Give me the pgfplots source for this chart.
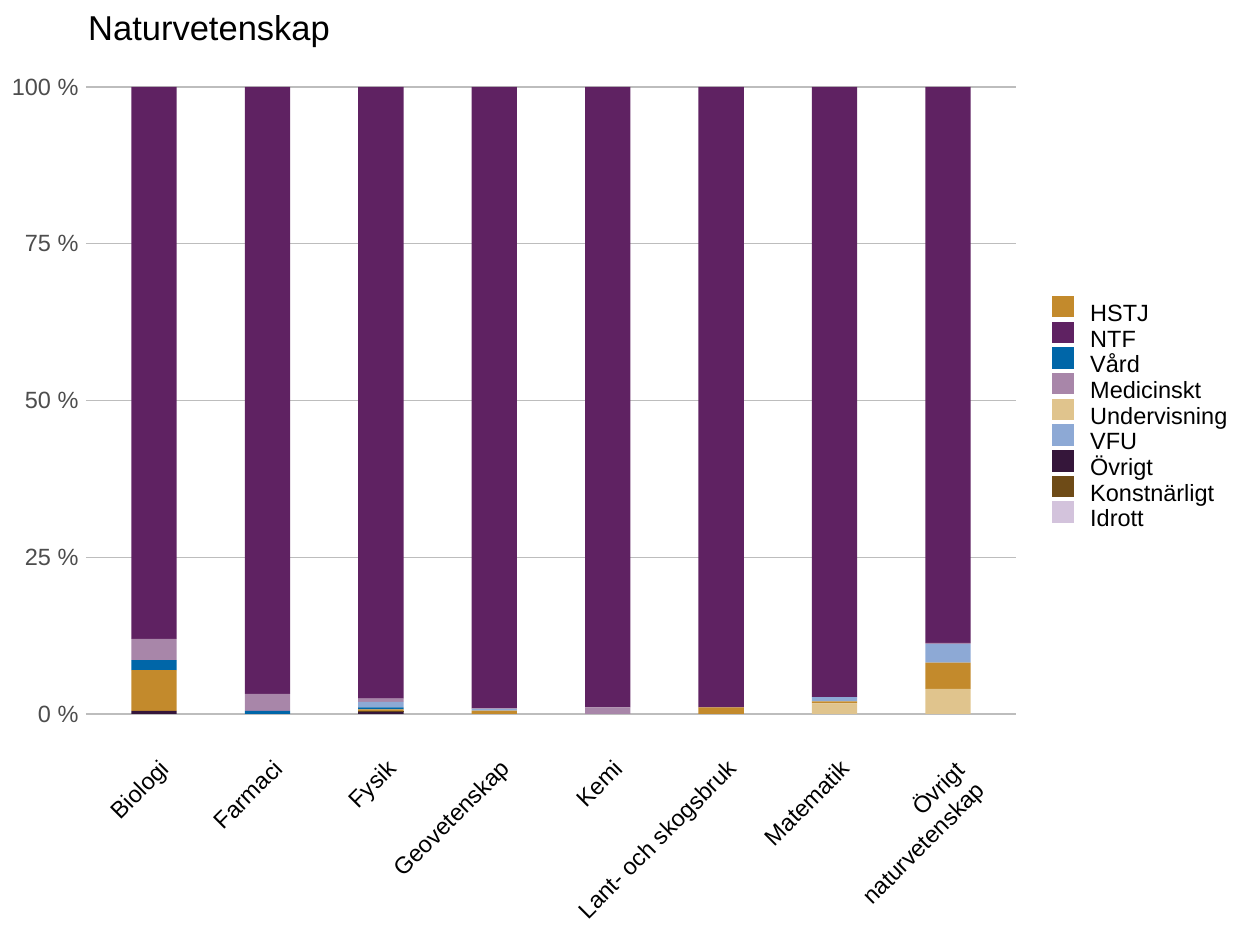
\documentclass[border=0pt]{standalone}
\usepackage{pgfplots}
\usepackage{pgfplotstable}
\pgfplotsset{compat=1.18}
\usepackage{fontspec}
\setmainfont{Liberation Sans}
\definecolor{cHSTJ}{HTML}{C38A2C}
\definecolor{cNTF}{HTML}{5F2262}
\definecolor{cVard}{HTML}{0066A8}
\definecolor{cMed}{HTML}{A886A9}
\definecolor{cUnd}{HTML}{E0C48D}
\definecolor{cVFU}{HTML}{8DA9D5}
\definecolor{cOvr}{HTML}{35163A}
\definecolor{cKon}{HTML}{6E4B17}
\definecolor{cIdr}{HTML}{D3C3DC}
\definecolor{gridc}{HTML}{BDBDBD}
\definecolor{ytc}{HTML}{4D4D4D}

\pgfplotstableread{
x  Ovr   Kon   Und  HSTJ  Vard  VFU   Med   Idr  NTF
0  0.5   0     0    6.5   1.6   0     3.4   0    88.0
1  0     0     0    0     0.5   0     2.7   0    96.8
2  0.35  0.15  0    0.25  0.3   0.9   0.5   0    97.55
3  0     0     0    0.55  0     0.25  0.1   0    99.1
4  0     0     0    0     0     0     1.05  0    98.95
5  0     0     0    1.05  0     0     0     0    98.95
6  0     0     1.7  0.3   0     0.7   0     0    97.3
7  0     0     4.0  4.2   0     3.0   0.15  0    88.65
}\datatable

\begin{document}
\begin{tikzpicture}
\useasboundingbox (0,0) rectangle (1239pt,928pt);
\begin{axis}[
  at={(86pt,182.65pt)}, anchor=south west,
  scale only axis, width=930pt, height=689.7pt,
  xmin=-0.6, xmax=7.6, ymin=-5, ymax=105,
  ybar stacked, bar width=0.4,
  axis x line=bottom, axis y line=left,
  axis line style={draw=none},
  ymajorgrids, grid style={gridc, line width=1.3pt},
  major tick length=0pt,
  ytick={0,25,50,75,100},
  yticklabels={0 \%,25 \%,50 \%,75 \%,100 \%},
  yticklabel style={font=\fontsize{23.5}{28}\selectfont, text=ytc, xshift=-4pt},
  xtick={0,...,7},
  xticklabels={Biologi,Farmaci,Fysik,Geovetenskap,Kemi,Lant- och skogsbruk,Matematik,{Övrigt\\naturvetenskap}},
  xticklabel style={xshift=4.5pt, yshift=-8pt, font=\fontsize{23.5}{28}\selectfont, rotate=45, anchor=north east, align=right},
  legend cell align=left,
  legend image code/.code={\fill[#1] (0pt,-2pt) rectangle (22pt,19.5pt);},
  legend style={at={(axis description cs:1.0387,0.652)}, anchor=north west, draw=none, fill=none,
    inner sep=0pt, font=\fontsize{23.5}{28}\selectfont, row sep=-4.3pt,
    /tikz/every odd column/.style={column sep=16pt},
    nodes={inner sep=0pt, text height=16.5pt, text depth=4.5pt}},
]
\addlegendimage{fill=cHSTJ, draw=none}\addlegendentry{HSTJ}
\addlegendimage{fill=cNTF, draw=none}\addlegendentry{NTF}
\addlegendimage{fill=cVard, draw=none}\addlegendentry{Vård}
\addlegendimage{fill=cMed, draw=none}\addlegendentry{Medicinskt}
\addlegendimage{fill=cUnd, draw=none}\addlegendentry{Undervisning}
\addlegendimage{fill=cVFU, draw=none}\addlegendentry{VFU}
\addlegendimage{fill=cOvr, draw=none}\addlegendentry{Övrigt}
\addlegendimage{fill=cKon, draw=none}\addlegendentry{Konstnärligt}
\addlegendimage{fill=cIdr, draw=none}\addlegendentry{Idrott}
\addplot[fill=cOvr, draw=none] table[x=x, y=Ovr] {\datatable};
\addplot[fill=cKon, draw=none] table[x=x, y=Kon] {\datatable};
\addplot[fill=cUnd, draw=none] table[x=x, y=Und] {\datatable};
\addplot[fill=cHSTJ, draw=none] table[x=x, y=HSTJ] {\datatable};
\addplot[fill=cVard, draw=none] table[x=x, y=Vard] {\datatable};
\addplot[fill=cVFU, draw=none] table[x=x, y=VFU] {\datatable};
\addplot[fill=cMed, draw=none] table[x=x, y=Med] {\datatable};
\addplot[fill=cIdr, draw=none] table[x=x, y=Idr] {\datatable};
\addplot[fill=cNTF, draw=none] table[x=x, y=NTF] {\datatable};
\end{axis}
\node[anchor=base west, font=\fontsize{34.5}{40}\selectfont, inner sep=0pt] at (88pt,887pt) {Naturvetenskap};
\end{tikzpicture}
\end{document}
